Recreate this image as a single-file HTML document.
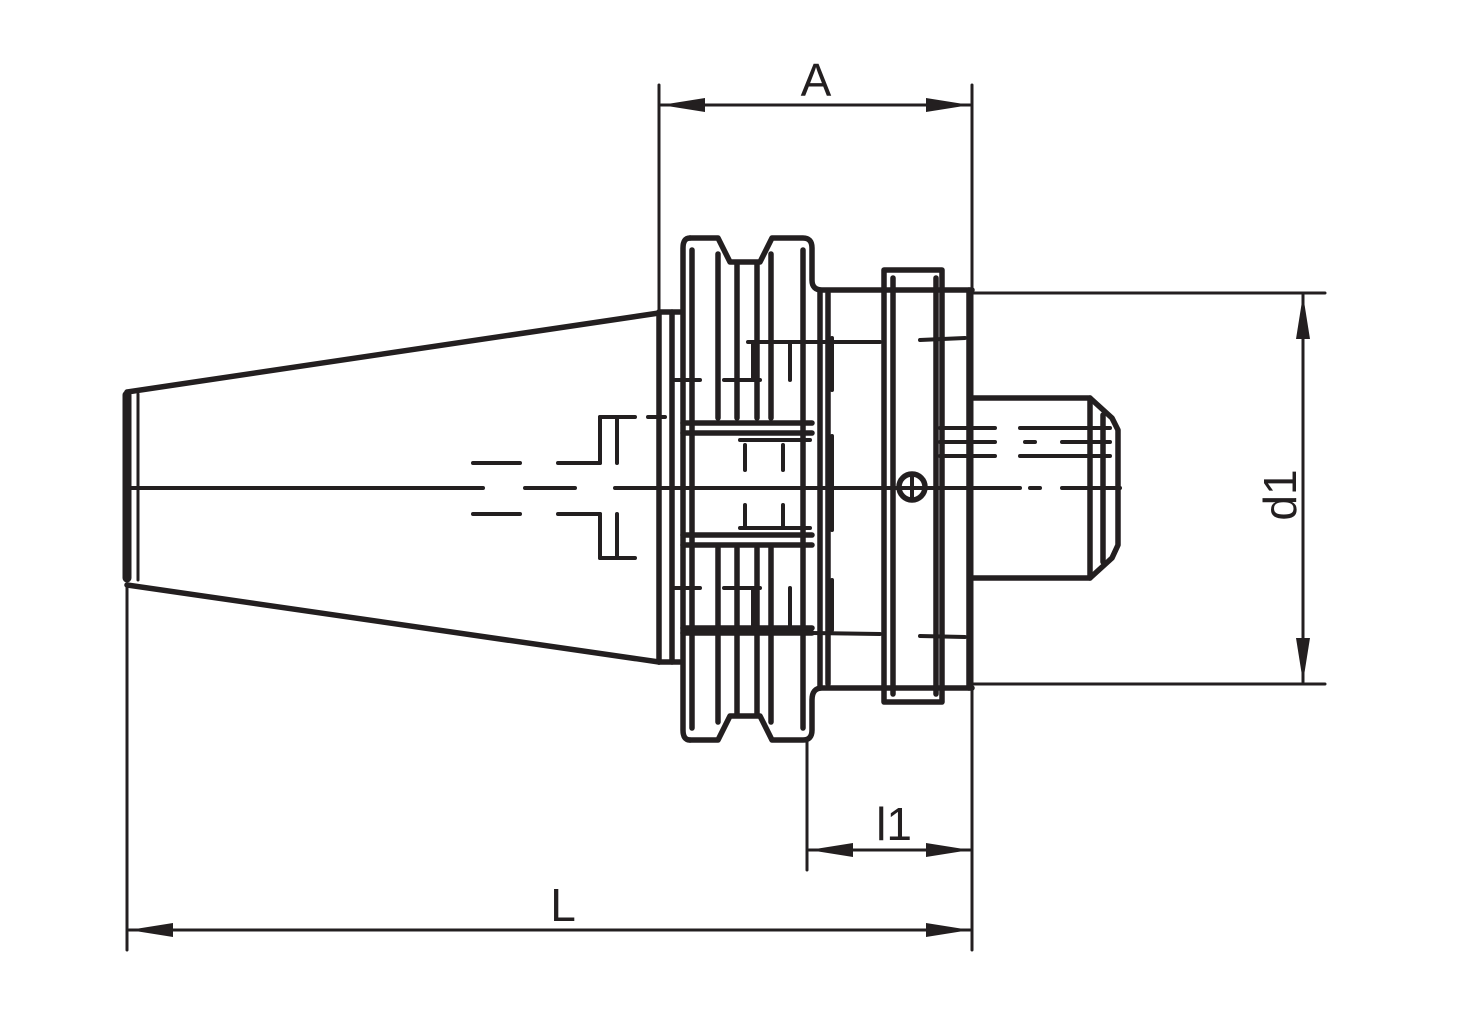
<!DOCTYPE html>
<html><head><style>html,body{margin:0;padding:0;background:#fff}svg{display:block}</style></head>
<body>
<svg width="1462" height="1020" viewBox="0 0 1462 1020" xmlns="http://www.w3.org/2000/svg">
<g fill="none" stroke="#231f20" stroke-linecap="round" stroke-linejoin="round">
<g stroke-width="3">
<line x1="659" y1="85" x2="659" y2="312"/>
<line x1="972" y1="85" x2="972" y2="950"/>
<line x1="661" y1="105" x2="970" y2="105"/>
<line x1="127" y1="585" x2="127" y2="950"/>
<line x1="129" y1="930" x2="970" y2="930"/>
<line x1="807" y1="740" x2="807" y2="870"/>
<line x1="809" y1="850" x2="970" y2="850"/>
<line x1="972" y1="293" x2="1325" y2="293"/>
<line x1="972" y1="684" x2="1325" y2="684"/>
<line x1="1303" y1="295" x2="1303" y2="682"/>
</g>
<g fill="#231f20" stroke="none">
<polygon points="661,105 705,98 705,112"/>
<polygon points="970,105 926,98 926,112"/>
<polygon points="129,930 173,923 173,937"/>
<polygon points="970,930 926,923 926,937"/>
<polygon points="809,850 853,843 853,857"/>
<polygon points="970,850 926,843 926,857"/>
<polygon points="1303,295 1296,339 1310,339"/>
<polygon points="1303,682 1296,638 1310,638"/>
</g>
<g stroke-width="5.5">
<line x1="127" y1="392" x2="659" y2="313"/>
<line x1="127" y1="585" x2="659" y2="662"/>
<line x1="127" y1="395" x2="127" y2="578" stroke-width="9"/>
<line x1="138" y1="394" x2="138" y2="580" stroke-width="3"/>
<line x1="659" y1="312" x2="659" y2="662"/>
<line x1="659" y1="312" x2="680" y2="312"/>
<line x1="659" y1="662" x2="680" y2="662"/>
<line x1="672" y1="312" x2="672" y2="662"/>
<path d="M690,238 L718,238 L730,262 L760,262 L772,238 L803,238 Q812,238 812,248 L812,280 Q812,290 822,290 L972,290"/>
<path d="M690,740 L718,740 L730,716 L760,716 L772,740 L803,740 Q812,740 812,730 L812,700 Q812,688 822,688 L972,688"/>
<path d="M690,238 Q683,238 683,248 L683,730 Q683,740 690,740"/>
<line x1="692" y1="250" x2="692" y2="728"/>
<line x1="718" y1="254" x2="718" y2="418"/>
<line x1="718" y1="548" x2="718" y2="722"/>
<line x1="737" y1="264" x2="737" y2="418"/>
<line x1="757" y1="264" x2="757" y2="418"/>
<line x1="737" y1="548" x2="737" y2="714"/>
<line x1="757" y1="548" x2="757" y2="714"/>
<line x1="771" y1="254" x2="771" y2="418"/>
<line x1="771" y1="548" x2="771" y2="722"/>
<line x1="803" y1="250" x2="803" y2="728"/>
<line x1="683" y1="423" x2="812" y2="423"/>
<line x1="683" y1="433" x2="812" y2="433"/>
<line x1="683" y1="535" x2="812" y2="535"/>
<line x1="683" y1="545" x2="812" y2="545"/>
<line x1="683" y1="628" x2="812" y2="628"/>
<line x1="683" y1="633" x2="812" y2="633"/>
<line x1="820" y1="290" x2="820" y2="688"/>
<line x1="828" y1="293" x2="828" y2="684"/>
<rect x="884" y="270" width="58" height="432"/>
<line x1="893" y1="278" x2="893" y2="694"/>
<line x1="936" y1="278" x2="936" y2="694"/>
<line x1="969" y1="290" x2="969" y2="688"/>
<circle cx="912" cy="487" r="13"/>
<path d="M972,398 L1090,398 L1112,418 L1118,430 L1118,545 L1112,558 L1090,578 L972,578"/>
<line x1="1090" y1="398" x2="1090" y2="578"/>
<line x1="1103" y1="415" x2="1103" y2="562"/>
</g>
<g stroke-width="4">
<line x1="127" y1="488" x2="483" y2="488"/>
<line x1="525" y1="488" x2="575" y2="488"/>
<line x1="615" y1="488" x2="1020" y2="488"/>
<line x1="1030" y1="488" x2="1040" y2="488"/>
<line x1="1062" y1="488" x2="1120" y2="488"/>
<line x1="473" y1="463" x2="520" y2="463"/>
<line x1="558" y1="463" x2="600" y2="463"/>
<line x1="473" y1="514" x2="520" y2="514"/>
<line x1="558" y1="514" x2="600" y2="514"/>
<line x1="600" y1="417" x2="600" y2="463"/>
<line x1="617" y1="417" x2="617" y2="463"/>
<line x1="600" y1="514" x2="600" y2="558"/>
<line x1="617" y1="514" x2="617" y2="558"/>
<line x1="600" y1="417" x2="635" y2="417"/>
<line x1="648" y1="417" x2="665" y2="417"/>
<line x1="600" y1="558" x2="635" y2="558"/>
<line x1="675" y1="380" x2="700" y2="380"/>
<line x1="724" y1="380" x2="760" y2="380"/>
<line x1="675" y1="588" x2="700" y2="588"/>
<line x1="724" y1="588" x2="760" y2="588"/>
<line x1="748" y1="342" x2="880" y2="342"/>
<line x1="920" y1="340" x2="965" y2="338"/>
<line x1="748" y1="632" x2="880" y2="634"/>
<line x1="920" y1="636" x2="965" y2="637"/>
<line x1="832" y1="338" x2="832" y2="390"/>
<line x1="832" y1="436" x2="832" y2="530"/>
<line x1="832" y1="580" x2="832" y2="630"/>
<line x1="753" y1="342" x2="753" y2="380"/>
<line x1="790" y1="342" x2="790" y2="380"/>
<line x1="753" y1="588" x2="753" y2="630"/>
<line x1="790" y1="588" x2="790" y2="630"/>
<line x1="940" y1="428" x2="995" y2="428"/>
<line x1="1020" y1="428" x2="1110" y2="428"/>
<line x1="940" y1="442" x2="995" y2="442"/>
<line x1="1025" y1="442" x2="1035" y2="442"/>
<line x1="1062" y1="442" x2="1110" y2="442"/>
<line x1="940" y1="456" x2="995" y2="456"/>
<line x1="1020" y1="456" x2="1110" y2="456"/>
<line x1="912" y1="474" x2="912" y2="500"/>
<line x1="740" y1="440" x2="810" y2="440"/>
<line x1="740" y1="528" x2="810" y2="528"/>
<line x1="745" y1="445" x2="745" y2="470"/>
<line x1="783" y1="445" x2="783" y2="470"/>
<line x1="745" y1="505" x2="745" y2="528"/>
<line x1="783" y1="505" x2="783" y2="528"/>
</g>
</g>
<g font-family="Liberation Sans, sans-serif" font-size="46" fill="#231f20">
<text x="816" y="96" text-anchor="middle">A</text>
<text x="563" y="921" text-anchor="middle">L</text>
<text x="894" y="840" text-anchor="middle">l1</text>
<text transform="translate(1296,495) rotate(-90)" text-anchor="middle">d1</text>
</g>
</svg>
</body></html>
